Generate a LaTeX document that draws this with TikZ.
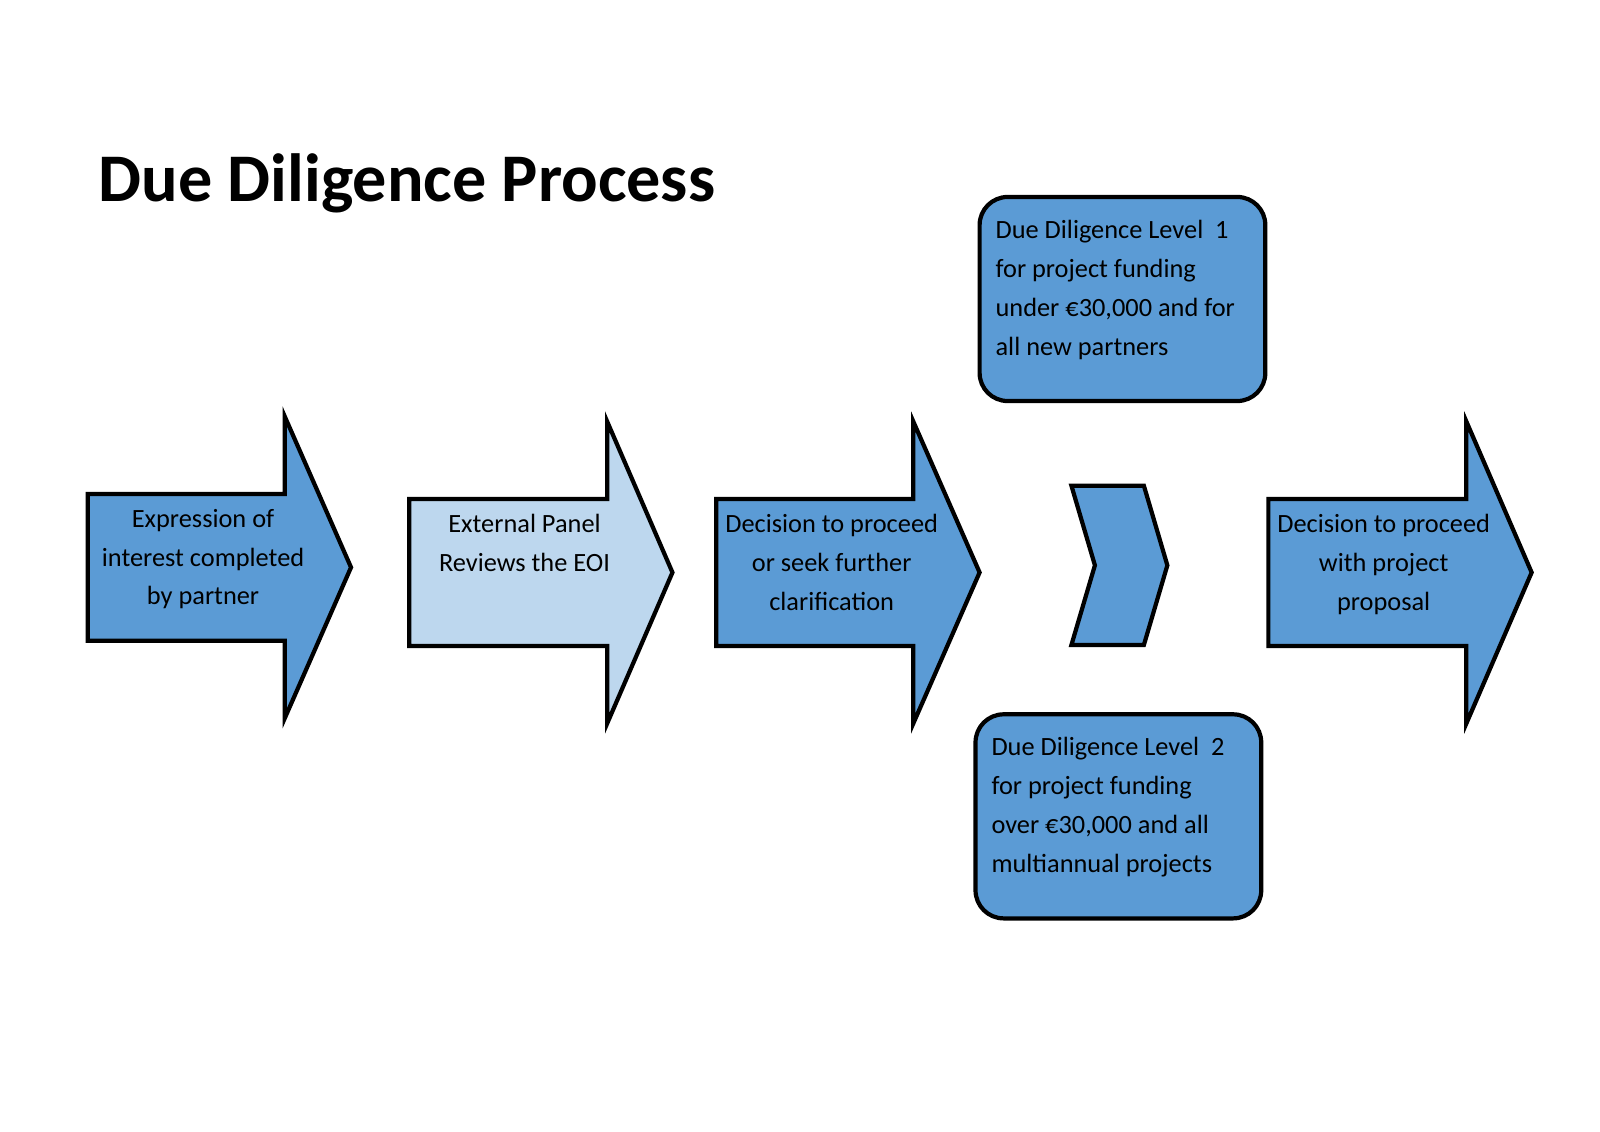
\documentclass[tikz,border=0pt]{standalone}
\usepackage{fontspec}
\setmainfont{Carlito}
\usepackage{tikz}

\definecolor{stepblue}{HTML}{5B9BD5}
\definecolor{paleblue}{HTML}{BDD7EE}

\tikzset{
  darkstep/.style={draw=black, line width=1.2pt, fill=stepblue},
  palestep/.style={draw=black, line width=1.2pt, fill=paleblue},
  steptext/.style={align=center, inner sep=0pt, font=\fontsize{7.5}{11.05}\selectfont},
  levelbox/.style={draw=black, line width=1.2pt, fill=stepblue, rounded corners=8pt},
  leveltext/.style={align=left, anchor=west, inner sep=0pt, font=\fontsize{7.5}{11.05}\selectfont}
}

\begin{document}
\begin{tikzpicture}[x={(0.010204cm,0)}, y={(0,-0.010204cm)}]
		\useasboundingbox (0,0) rectangle (1568,1108.4);
		\node[anchor=base west, inner sep=0pt, font=\fontsize{19.4}{23}\selectfont\bfseries] (title) at (96,197) {Due Diligence Process};
		% process arrows
		\draw[darkstep] (86,484) -- (279,484) -- (279,408) -- (344,556) -- (279,704) -- (279,628) -- (86,628) -- cycle;
		\node[steptext] (eoi) at (199,548) {Expression of\\interest completed\\by partner};
		\draw[palestep] (401,489) -- (595,489) -- (595,413) -- (659,561) -- (595,709) -- (595,633) -- (401,633) -- cycle;
		\node[steptext] (panel) at (514,532) {External Panel\\Reviews the EOI};
		\draw[darkstep] (702,489) -- (895,489) -- (895,413) -- (960,561) -- (895,709) -- (895,633) -- (702,633) -- cycle;
		\node[steptext] (decide) at (815,551) {Decision to proceed\\or seek further\\clarification};
		\draw[darkstep] (1050,476) -- (1121,476) -- (1144,554) -- (1121,632) -- (1050,632) -- (1073,554) -- cycle;
		\draw[darkstep] (1243,489) -- (1437,489) -- (1437,413) -- (1501,561) -- (1437,709) -- (1437,633) -- (1243,633) -- cycle;
		\node[steptext] (proposal) at (1356,553) {Decision to proceed\\with project\\proposal};
		% due diligence levels
		\draw[levelbox] (960,193) rectangle (1240,393);
		\node[leveltext] (levelone) at (975,284) {Due Diligence Level\ \ 1\\for project funding\\under €30,000 and for\\all new partners};
		\draw[levelbox] (956,700) rectangle (1236,900);
		\node[leveltext] (leveltwo) at (971,791) {Due Diligence Level\ \ 2\\for project funding\\over €30,000 and all\\multiannual projects};
\end{tikzpicture}
\end{document}
